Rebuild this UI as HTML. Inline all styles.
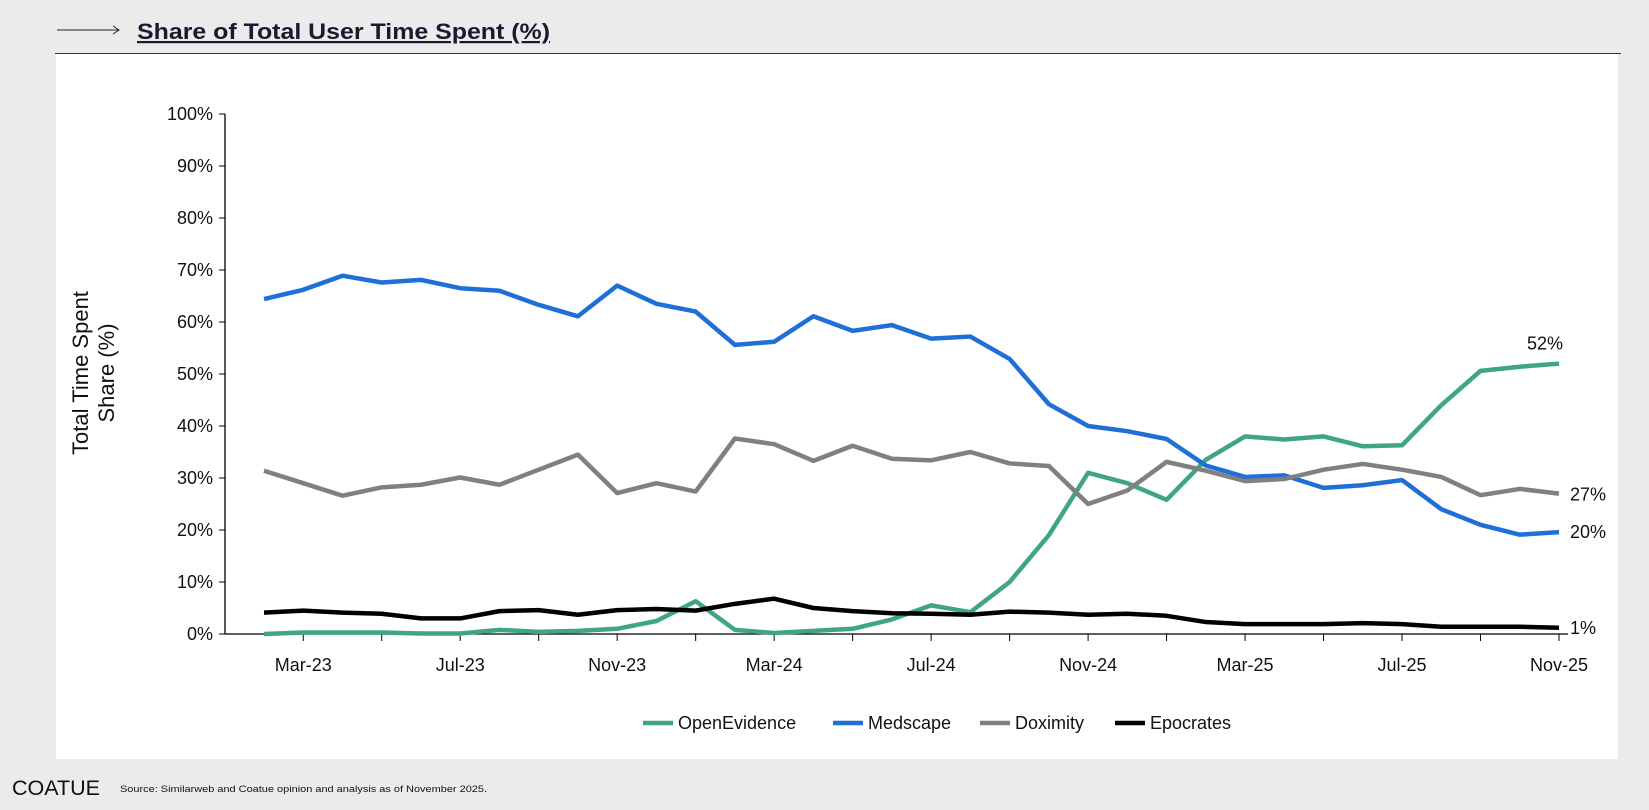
<!DOCTYPE html>
<html><head><meta charset="utf-8"><style>
body{margin:0;width:1649px;height:810px;background:#ebebeb;font-family:"Liberation Sans",Arial,sans-serif;overflow:hidden;position:relative}
</style></head><body>
<svg width="1649" height="810" style="position:absolute;left:0;top:0">
<line x1="57" y1="30" x2="119" y2="30" stroke="#222" stroke-width="1"/>
<path d="M113 26 L119 30 L113 34" fill="none" stroke="#222" stroke-width="1"/>
<text x="137" y="39" font-size="22" font-weight="bold" fill="#1a1a2e" text-decoration="underline" textLength="413" lengthAdjust="spacingAndGlyphs">Share of Total User Time Spent (%)</text>
<line x1="55" y1="53.5" x2="1621" y2="53.5" stroke="#333" stroke-width="1"/>
<rect x="56" y="54" width="1562" height="705" fill="#fff"/>
<g id="axes"></g>
<g id="lines"></g>
<text transform="translate(88,373) rotate(-90)" text-anchor="middle" font-size="22" fill="#111"><tspan x="0" dy="0">Total Time Spent</tspan><tspan x="0" dy="26">Share (%)</tspan></text>
<g id="legend"></g>
<text x="12" y="795" font-size="21" fill="#111" textLength="88" lengthAdjust="spacingAndGlyphs">COATUE</text>
<text x="120" y="792" font-size="9.5" fill="#111" textLength="367" lengthAdjust="spacingAndGlyphs">Source: Similarweb and Coatue opinion and analysis as of November 2025.</text>
</svg>
<script>
const months=["Feb-23","Mar-23","Apr-23","May-23","Jun-23","Jul-23","Aug-23","Sep-23","Oct-23","Nov-23","Dec-23","Jan-24","Feb-24","Mar-24","Apr-24","May-24","Jun-24","Jul-24","Aug-24","Sep-24","Oct-24","Nov-24","Dec-24","Jan-25","Feb-25","Mar-25","Apr-25","May-25","Jun-25","Jul-25","Aug-25","Sep-25","Oct-25","Nov-25"];
const openEvidence=[0,0.3,0.3,0.3,0.1,0.1,0.8,0.4,0.6,1.0,2.5,6.3,0.8,0.2,0.6,1.0,2.8,5.5,4.2,10,19,31,29,25.8,33.5,38,37.4,38,36.1,36.3,44,50.6,51.4,52];
const medscape=[64.4,66.2,68.9,67.6,68.1,66.5,66.0,63.3,61.1,67.0,63.5,62.0,55.6,56.2,61.1,58.3,59.4,56.8,57.2,52.9,44.2,40,39,37.5,32.4,30.2,30.5,28.1,28.6,29.6,24,21,19.1,19.6];
const doximity=[31.4,29.0,26.6,28.2,28.7,30.1,28.7,31.6,34.5,27.1,29.0,27.4,37.6,36.5,33.3,36.2,33.7,33.4,35,32.8,32.3,25,27.6,33.1,31.4,29.4,29.8,31.6,32.7,31.6,30.2,26.7,27.9,27];
const epocrates=[4.1,4.5,4.1,3.9,3.0,3.0,4.4,4.6,3.7,4.6,4.8,4.5,5.8,6.8,5.0,4.4,4.0,3.9,3.7,4.3,4.1,3.7,3.9,3.5,2.3,1.9,1.9,1.9,2.1,1.9,1.4,1.4,1.4,1.2];
const yTicks=[0,10,20,30,40,50,60,70,80,90,100];
const endLabels=["52%","20%","27%","1%"];
const NS="http://www.w3.org/2000/svg";
const x0=264,dx=(1559-264)/(months.length-1);
const X=i=>x0+i*dx, Y=v=>634-v*5.2;
function mk(p,t,a){const e=document.createElementNS(NS,t);for(const k in a)e.setAttribute(k,a[k]);p.appendChild(e);return e;}
const ax=document.getElementById('axes');
let l=mk(ax,'line',{x1:225,y1:114,x2:225,y2:634,stroke:'#000','stroke-width':1.3});


l=mk(ax,'line',{x1:225,y1:634,x2:1568,y2:634,stroke:'#000','stroke-width':1.3});


yTicks.forEach(v=>{
 mk(ax,'line',{x1:219,y1:Y(v),x2:225,y2:Y(v),stroke:'#000'});
 const t=mk(ax,'text',{x:213,y:Y(v)+6,'text-anchor':'end','font-size':18,fill:'#111'});t.textContent=v+'%';
 
 
});
months.forEach((m,i)=>{
 if(i%2===1){mk(ax,'line',{x1:X(i),y1:634,x2:X(i),y2:641,stroke:'#000'});}
 if(i%4===1){const t=mk(ax,'text',{x:X(i),y:671,'text-anchor':'middle','font-size':18,fill:'#111'});t.textContent=m;
 
 }
});
const series=[["openevidence",openEvidence,"#3fa67e","OpenEvidence"],["medscape",medscape,"#1f6fd6","Medscape"],["doximity",doximity,"#808080","Doximity"],["epocrates",epocrates,"#000","Epocrates"]];
const lg=document.getElementById('lines');
series.forEach(s=>{
 const p=mk(lg,'polyline',{points:s[1].map((v,i)=>X(i)+','+Y(v)).join(' '),fill:'none',stroke:s[2],'stroke-width':4.5,'stroke-linejoin':'round'});
 
 
});
const n=months.length-1;
const endPos=[[openEvidence[n],1527,-14,'start'],[medscape[n],1570,6,'start'],[doximity[n],1570,7,'start'],[epocrates[n],1570,6,'start']];
endPos.forEach((e,i)=>{const t=mk(lg,'text',{x:e[1],y:Y(e[0])+e[2],'font-size':18,fill:'#111'});t.textContent=endLabels[i];
 
 });
const leg=document.getElementById('legend');
const lx=[643,833,980,1115];
series.forEach((s,i)=>{
 const g=mk(leg,'g',{});
 
 
 mk(g,'line',{x1:lx[i],y1:723,x2:lx[i]+30,y2:723,stroke:s[2],'stroke-width':4.5});
 const t=mk(g,'text',{x:lx[i]+35,y:729,'font-size':18,fill:'#111'});t.textContent=s[3];
});
</script>
</body></html>
